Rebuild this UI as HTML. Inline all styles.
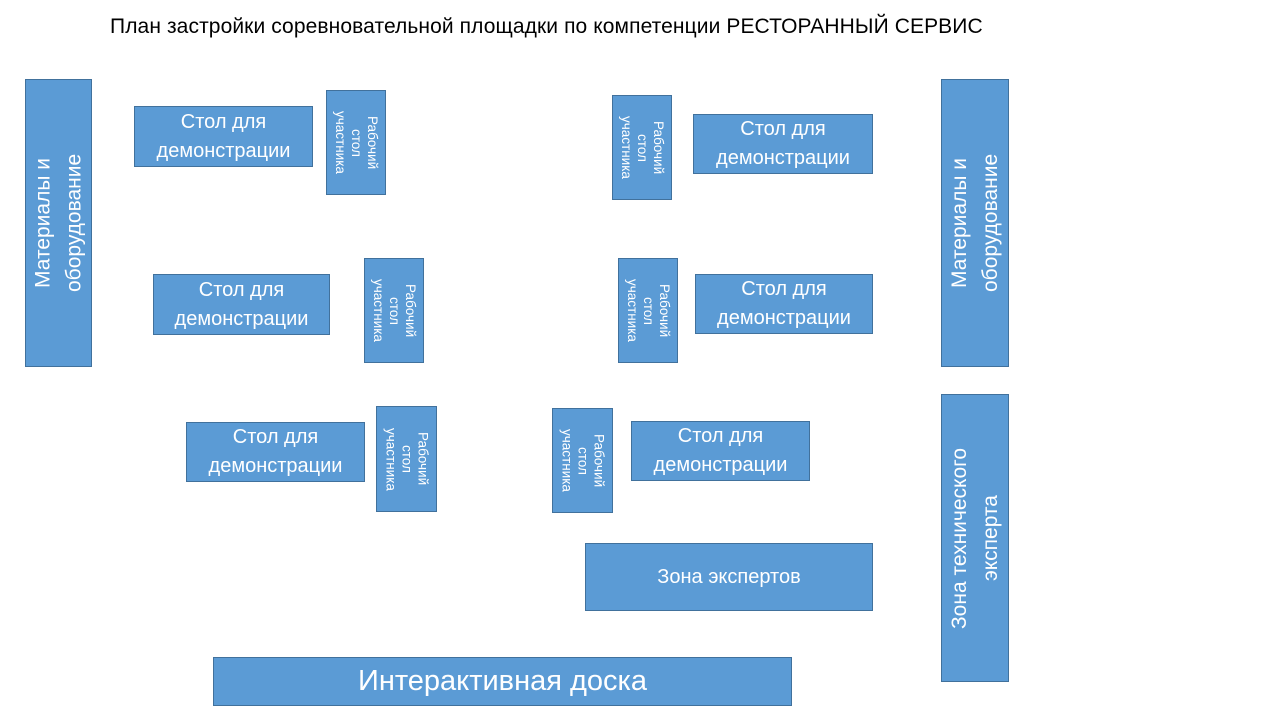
<!DOCTYPE html>
<html><head><meta charset="utf-8"><style>
body{margin:0;width:1280px;height:720px;background:#fff;position:relative;overflow:hidden;font-family:"Liberation Sans","DejaVu Sans",sans-serif}
.b{position:absolute;box-sizing:border-box;background:#5b9bd5;border:1px solid #41719c;color:#fff;display:flex;align-items:center;justify-content:center;text-align:center}
.t{font-size:20px;line-height:29px}
.s{writing-mode:vertical-rl;font-size:13.5px;line-height:16px}
.v{writing-mode:vertical-rl;transform:rotate(180deg);font-size:21px;line-height:31px}
.title{position:absolute;left:110px;top:15px;font-size:21px;color:#000;white-space:nowrap;letter-spacing:0.1px}
</style></head><body>
<div class="title">План застройки соревновательной площадки по компетенции РЕСТОРАННЫЙ СЕРВИС</div>
<div class="b v" style="left:25px;top:79px;width:67px;height:288px">Материалы и<br>оборудование</div>
<div class="b v" style="left:941px;top:79px;width:68px;height:288px">Материалы и<br>оборудование</div>
<div class="b v" style="left:941px;top:394px;width:68px;height:288px">Зона технического<br>эксперта</div>

<div class="b t" style="left:134px;top:106px;width:179px;height:61px">Стол для<br>демонстрации</div>
<div class="b s" style="left:326px;top:90px;width:60px;height:105px">Рабочий<br>стол<br>участника</div>
<div class="b t" style="left:153px;top:274px;width:177px;height:61px">Стол для<br>демонстрации</div>
<div class="b s" style="left:364px;top:258px;width:60px;height:105px">Рабочий<br>стол<br>участника</div>
<div class="b t" style="left:186px;top:422px;width:179px;height:60px">Стол для<br>демонстрации</div>
<div class="b s" style="left:376px;top:406px;width:61px;height:106px">Рабочий<br>стол<br>участника</div>

<div class="b s" style="left:612px;top:95px;width:60px;height:105px">Рабочий<br>стол<br>участника</div>
<div class="b t" style="left:693px;top:114px;width:180px;height:60px">Стол для<br>демонстрации</div>
<div class="b s" style="left:618px;top:258px;width:60px;height:105px">Рабочий<br>стол<br>участника</div>
<div class="b t" style="left:695px;top:274px;width:178px;height:60px">Стол для<br>демонстрации</div>
<div class="b s" style="left:552px;top:408px;width:61px;height:105px">Рабочий<br>стол<br>участника</div>
<div class="b t" style="left:631px;top:421px;width:179px;height:60px">Стол для<br>демонстрации</div>

<div class="b t" style="left:585px;top:543px;width:288px;height:68px">Зона экспертов</div>
<div class="b" style="left:213px;top:657px;width:579px;height:49px;font-size:29px">Интерактивная доска</div>
</body></html>
